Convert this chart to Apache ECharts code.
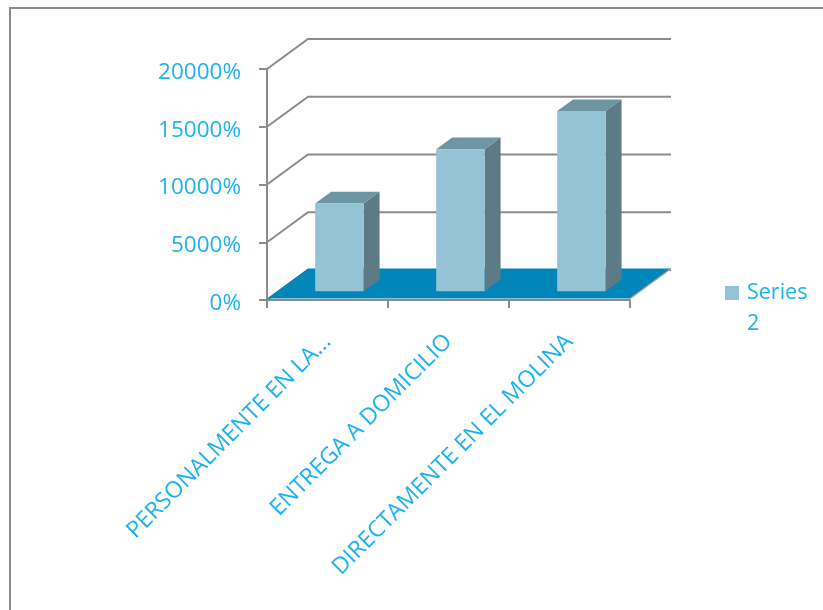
<!DOCTYPE html>
<html><head><meta charset="utf-8">
<script src="https://cdn.jsdelivr.net/npm/echarts@6/dist/echarts.min.js"></script>
<style>html,body{margin:0;padding:0;background:#fff}#c{width:823px;height:610px}</style>
</head><body><div id="c"></div>
<script>
const categories = ['PERSONALMENTE EN LA...', 'ENTREGA A DOMICILIO', 'DIRECTAMENTE EN EL MOLINA'];
const seriesName = 'Series 2';
const values = [7600, 12300, 15600];
const yTicks = [0, 5000, 10000, 15000, 20000];

const DEPTH = [41, -30];
const BAR_FRONT = 0.29, BAR_BACK = 0.68, BAR_WIDTH = 0.40;
const C_FRONT = '#93C3D5', C_TOP = '#6D95A2', C_SIDE = '#5C7B86';
const C_FLOOR = '#0086B8', C_GRID = '#8C8C8C', C_TEXT = '#1DB2EE';
const FONT = 'Open Sans';

function renderGrid(params, api) {
  const cs = params.coordSys;
  const y = api.coord([0, api.value(1)])[1];
  const x = cs.x, xr = cs.x + cs.width;
  return { type: 'polyline', shape: { points: [[x, y], [x + DEPTH[0], y + DEPTH[1]], [xr + DEPTH[0], y + DEPTH[1]]] },
    style: { stroke: C_GRID, lineWidth: 2, fill: null } };
}
function renderFloor(params, api) {
  const cs = params.coordSys;
  const y = api.coord([0, api.value(1)])[1] - 1.5;
  const x = cs.x, xr = cs.x + cs.width;
  return { type: 'group', children: [
    { type: 'polygon', shape: { points: [[x, y], [xr, y], [xr + DEPTH[0], y + DEPTH[1]], [x + DEPTH[0], y + DEPTH[1]]] }, style: { fill: C_FLOOR } },
    { type: 'line', shape: { x1: xr, y1: y, x2: xr + DEPTH[0], y2: y + DEPTH[1] }, style: { stroke: '#9a9a9a', lineWidth: 1.5 } }
  ]};
}
function renderBar(params, api) {
  const i = api.value(0), v = api.value(1);
  const top = api.coord([i, v]);
  const base = api.coord([i, 0]);
  const w = api.size([1, 0])[0] * BAR_WIDTH;
  const ox = DEPTH[0] * BAR_FRONT, oy = DEPTH[1] * BAR_FRONT;
  const dx = DEPTH[0] * (BAR_BACK - BAR_FRONT), dy = DEPTH[1] * (BAR_BACK - BAR_FRONT);
  const x0 = top[0] - w / 2 + ox, x1 = top[0] + w / 2 + ox;
  const yt = top[1] + oy, yb = base[1] + oy;
  return { type: 'group', children: [
    { type: 'polygon', shape: { points: [[x1, yt], [x1 + dx, yt + dy], [x1 + dx, yb + dy], [x1, yb]] }, style: { fill: C_SIDE } },
    { type: 'polygon', shape: { points: [[x0, yt], [x0 + dx, yt + dy], [x1 + dx, yt + dy], [x1, yt]] }, style: { fill: C_TOP } },
    { type: 'rect', shape: { x: x0, y: yt, width: x1 - x0, height: yb - yt }, style: { fill: C_FRONT } }
  ]};
}

const chart = echarts.init(document.getElementById('c'), null, { renderer: 'canvas' });
chart.setOption({
  animation: false,
  backgroundColor: '#fff',
  textStyle: { fontFamily: FONT },
  graphic: [{ type: 'rect', shape: { x: 10, y: 8, width: 840, height: 640 }, style: { fill: null, stroke: '#8a8a8a', lineWidth: 2 }, z: 100 }],
  grid: { left: 267, right: 193, top: 69, bottom: 310, containLabel: false },
  xAxis: {
    type: 'category', data: categories, boundaryGap: true,
    axisLine: { lineStyle: { color: C_GRID, width: 2 } },
    axisTick: { show: true, length: 8, lineStyle: { color: C_GRID, width: 2 } },
    axisLabel: { interval: 0, rotate: 45, margin: 38, color: C_TEXT, fontSize: 23, fontFamily: FONT }
  },
  yAxis: {
    type: 'value', min: 0, max: 20000, interval: 5000,
    axisLine: { show: true, lineStyle: { color: C_GRID, width: 2 } },
    axisTick: { show: true, length: 8, lineStyle: { color: C_GRID, width: 2 } },
    splitLine: { show: false },
    axisLabel: { formatter: v => v + '%', margin: 26, color: C_TEXT, fontSize: 22.5, fontFamily: FONT, verticalAlign: 'top', lineHeight: 7 }
  },
  legend: {
    data: [seriesName], left: 725, top: 251, padding: 0, icon: 'rect', itemWidth: 14, itemHeight: 14,
    formatter: () => '{s| }\n{t|Series}\n{t|2}',
    textStyle: { color: C_TEXT, fontSize: 21.5, fontFamily: FONT,
      rich: { s: { lineHeight: 31, fontSize: 21.5 }, t: { lineHeight: 31, fontSize: 21.5, color: C_TEXT, fontFamily: FONT, padding: [0, 0, 0, 3] } } }
  },
  series: [
    { type: 'custom', renderItem: renderGrid, data: yTicks.map(v => [0, v]), encode: { x: 0, y: 1 }, z: 1, silent: true },
    { type: 'custom', renderItem: renderFloor, data: [[0, 0]], encode: { x: 0, y: 1 }, z: 2, silent: true },
    { type: 'custom', name: seriesName, renderItem: renderBar, data: values.map((v, i) => [i, v]), encode: { x: 0, y: 1 }, itemStyle: { color: C_FRONT }, z: 3 }
  ]
});
</script></body></html>
